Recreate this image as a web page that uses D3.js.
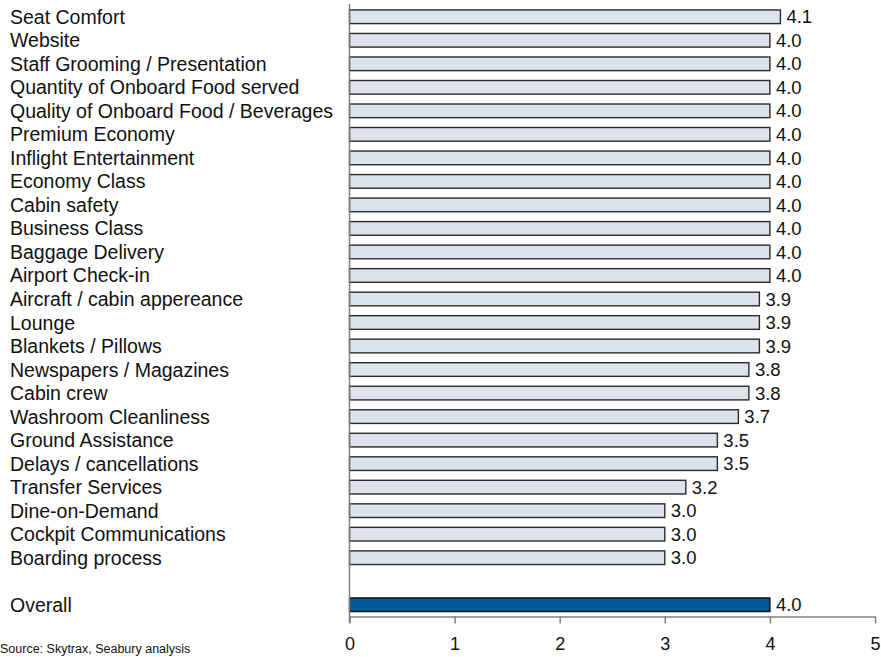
<!DOCTYPE html>
<html>
<head>
<meta charset="utf-8">
<script src="https://cdn.jsdelivr.net/npm/d3@7"></script>
<style>
  html, body { margin: 0; padding: 0; background: #fff; }
  svg { display: block; font-family: "Liberation Sans", Arial, sans-serif; }
</style>
</head>
<body>
<svg id="chart" width="881" height="657"></svg>
<script>
// Satisfaction score per service area (0–5 scale)
const categories = [
  "Seat Comfort", "Website", "Staff Grooming / Presentation",
  "Quantity of Onboard Food served", "Quality of Onboard Food / Beverages",
  "Premium Economy", "Inflight Entertainment", "Economy Class", "Cabin safety",
  "Business Class", "Baggage Delivery", "Airport Check-in",
  "Aircraft / cabin appereance", "Lounge", "Blankets / Pillows",
  "Newspapers / Magazines", "Cabin crew", "Washroom Cleanliness",
  "Ground Assistance", "Delays / cancellations", "Transfer Services",
  "Dine-on-Demand", "Cockpit Communications", "Boarding process"
];
const scores = [
  4.1, 4.0, 4.0, 4.0, 4.0, 4.0, 4.0, 4.0, 4.0, 4.0, 4.0, 4.0,
  3.9, 3.9, 3.9, 3.8, 3.8, 3.7, 3.5, 3.5, 3.2, 3.0, 3.0, 3.0
];
const overallLabel = "Overall";
const overallScore = 4.0;
const xTicks = [0, 1, 2, 3, 4, 5];
const sourceNote = "Source: Skytrax, Seabury analysis";

const rows = categories.map((c, i) => ({ key: c, label: c, value: scores[i], overall: false }));
rows.push({ key: "__gap", label: "", value: null, overall: false });
rows.push({ key: overallLabel, label: overallLabel, value: overallScore, overall: true });

const svg = d3.select("#chart");

const x = d3.scaleLinear().domain([0, 5]).range([349.5, 875]);
const y = d3.scaleBand()
  .domain(rows.map(d => d.key))
  .range([5, 616.5])
  .paddingInner(0.42)
  .paddingOuter(0.21);

// Bars
svg.append("g")
  .selectAll("rect")
  .data(rows.filter(d => d.value !== null))
  .join("rect")
  .attr("x", x(0))
  .attr("y", d => y(d.key))
  .attr("width", d => x(d.value) - x(0))
  .attr("height", y.bandwidth())
  .attr("fill", d => d.overall ? "#005696" : "#dde3ed")
  .attr("stroke", d => d.overall ? "#111" : "#2a2a2a")
  .attr("stroke-width", 1.4);

// Value labels
svg.append("g")
  .selectAll("text")
  .data(rows.filter(d => d.value !== null))
  .join("text")
  .attr("x", d => x(d.value) + 6)
  .attr("y", d => y(d.key) + y.bandwidth() / 2)
  .attr("dy", "0.36em")
  .attr("font-size", 18.5)
  .attr("fill", "#111")
  .text(d => d3.format(".1f")(d.value));

// Category labels
svg.append("g")
  .selectAll("text")
  .data(rows.filter(d => d.label))
  .join("text")
  .attr("x", 10)
  .attr("y", d => y(d.key) + y.bandwidth() / 2)
  .attr("dy", "0.36em")
  .attr("font-size", 19.5)
  .attr("fill", "#111")
  .text(d => d.label);

// Vertical axis line
svg.append("line")
  .attr("x1", x(0)).attr("x2", x(0))
  .attr("y1", 4).attr("y2", 623)
  .attr("stroke", "#808080")
  .attr("stroke-width", 1.5);

// Horizontal axis
const xAxis = d3.axisBottom(x)
  .tickValues(xTicks)
  .tickFormat(d3.format("d"))
  .tickSize(7)
  .tickSizeOuter(0)
  .tickPadding(14);

const gx = svg.append("g")
  .attr("transform", "translate(0,616.5)")
  .call(xAxis);
gx.select(".domain").attr("stroke", "#808080").attr("stroke-width", 1.5);
gx.selectAll(".tick line").attr("stroke", "#808080").attr("stroke-width", 1.5);
gx.selectAll(".tick text")
  .attr("font-size", 18)
  .attr("font-family", "'Liberation Sans', Arial, sans-serif")
  .attr("fill", "#111");

// Source note
svg.append("text")
  .attr("x", 0)
  .attr("y", 653)
  .attr("font-size", 12.5)
  .attr("fill", "#111")
  .text(sourceNote);
</script>
</body>
</html>
